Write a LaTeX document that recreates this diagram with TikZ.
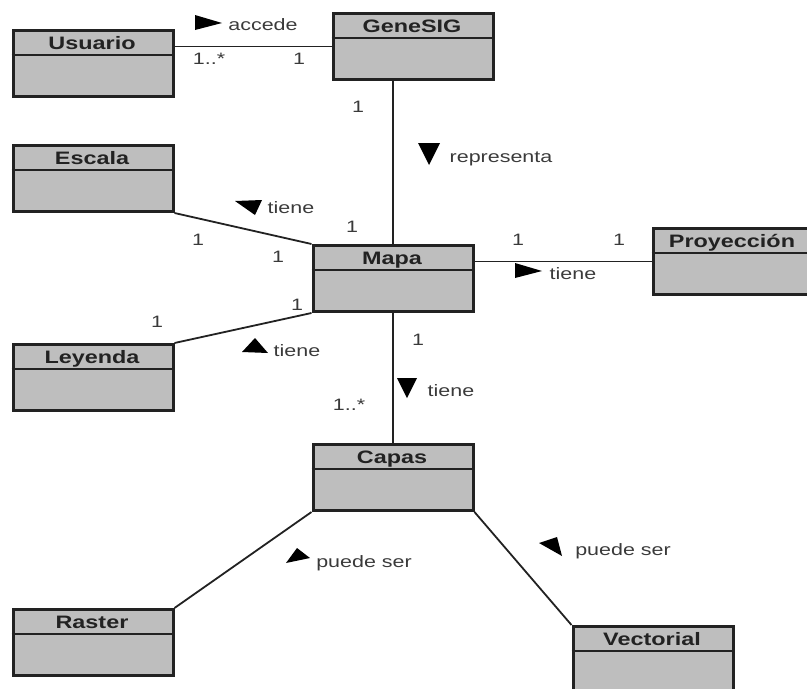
\documentclass[tikz,border=0pt]{standalone}
\usepackage{fontspec}
\setmainfont[FakeStretch=1.3]{Liberation Sans}
\definecolor{boxfill}{HTML}{BEBEBE}
\definecolor{ink}{HTML}{222222}
\definecolor{labelink}{HTML}{3A3A3A}
\tikzset{
  umlbox/.style={draw=ink,fill=boxfill,line width=3pt,inner sep=0pt,minimum width=160pt,minimum height=66pt,anchor=north},
  umltitle/.style={text=ink,font=\fontsize{18}{19}\selectfont\bfseries,inner sep=0pt,anchor=center},
  assoc/.style={draw=ink,line width=1.8pt},
  lab/.style={text=labelink,font=\fontsize{16.5}{17}\selectfont,inner sep=0pt,anchor=center},
  dirmark/.style={fill=black,draw=none},
}
% #1 name, #2 centre x, #3 top y, #4 title text
\newcommand{\umlclass}[4]{%
  \node[umlbox] (#1) at (#2,#3) {};
  \draw[draw=ink,line width=2.4pt] ($(#1.north west)+(0,26)$) -- ($(#1.north east)+(0,26)$);
  \node[umltitle,anchor=base] (#1t) at ($(#1.north)+(-1,20.5)$) {#4};
}
\usetikzlibrary{calc}
\begin{document}
\begin{tikzpicture}[x=1pt,y=-1pt]
\useasboundingbox (0,0) rectangle (807,689);
\begin{scope}
\clip (0,0) rectangle (807,689);
\umlclass{usuario}{93}{29}{Usuario}
\umlclass{genesig}{413}{12}{GeneSIG}
\umlclass{escala}{93}{144}{Escala}
\umlclass{mapa}{393}{244}{Mapa}
\umlclass{leyenda}{93}{343}{Leyenda}
\umlclass{proyeccion}{733}{227}{Proyección}
\umlclass{capas}{393}{443}{Capas}
\umlclass{raster}{93}{608}{Raster}
\umlclass{vectorial}{653}{625}{Vectorial}
\end{scope}
\draw[assoc] (genesig.west) -- (genesig.west -| usuario.east);
\draw[assoc] (mapa.north) -- (mapa.north |- genesig.south);
\draw[assoc] (escala.south east) -- (mapa.north west);
\draw[assoc] (leyenda.north east) -- (mapa.south west);
\draw[assoc] (proyeccion.west) -- (proyeccion.west -| mapa.east);
\draw[assoc] (mapa.south) -- (capas.north);
\draw[assoc] (capas.south west) -- (raster.north east);
\draw[assoc] (capas.south east) -- (vectorial.north west);
\fill[dirmark] (195,15) -- (195,30) -- (222,23) -- cycle;
\fill[dirmark] (418,143) -- (440,143) -- (429,165) -- cycle;
\fill[dirmark] (235,201) -- (262,200) -- (255,215) -- cycle;
\fill[dirmark] (242,352) -- (255,338) -- (268,353) -- cycle;
\fill[dirmark] (515,263) -- (515,278) -- (542,271) -- cycle;
\fill[dirmark] (397,378) -- (417,378) -- (407,398) -- cycle;
\fill[dirmark] (286,563) -- (297,548) -- (310,558) -- cycle;
\fill[dirmark] (539,543) -- (557,537) -- (562,556) -- cycle;
\node[lab] (l1) at (263,25) {accede};
\node[lab] (l2) at (501,159) {representa};
\node[lab] (l3) at (291,208) {tiene};
\node[lab] (l4) at (297,351) {tiene};
\node[lab] (l5) at (573,274) {tiene};
\node[lab] (l6) at (451,391) {tiene};
\node[lab] (l7) at (364,563) {puede ser};
\node[lab] (l8) at (623,551) {puede ser};
\node[lab] (m1) at (209,59) {1..*};
\node[lab] (m2) at (299,59) {1};
\node[lab] (m3) at (358,107) {1};
\node[lab] (m4) at (198,240) {1};
\node[lab] (m5) at (278,257) {1};
\node[lab] (m6) at (352,227) {1};
\node[lab] (m7) at (157,322) {1};
\node[lab] (m8) at (297,305) {1};
\node[lab] (m9) at (418,340) {1};
\node[lab] (m10) at (349,405) {1..*};
\node[lab] (m11) at (518,240) {1};
\node[lab] (m12) at (619,240) {1};
\end{tikzpicture}
\end{document}
